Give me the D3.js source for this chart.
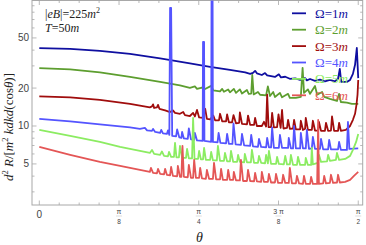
<!DOCTYPE html>
<html>
<head>
<meta charset="utf-8">
<script src="https://cdn.jsdelivr.net/npm/d3@7"></script>
<style>
  body { margin: 0; background: #fff; }
  svg { display: block; }
</style>
</head>
<body>
<div id="chart"></div>
<script>
// ==============================
// Data: theta in degrees, rate d2R (log axis)
// ==============================
const omega1 = [[0,41.5],[8.7,40.9],[17.1,39.4],[25.6,37.3],[34.1,34.4],[42.5,31.4],[48.2,29.5],[53.8,27.9],[58.1,26.6],[59.5,25.9],[60.3,26.4],[60.9,27.4],[61.4,26.2],[62.8,25.4],[63.7,26.3],[64.3,25.2],[66.5,24.5],[67.6,25.7],[68.2,24.3],[69.4,24.6],[70.7,23.7],[72.2,23.9],[73.6,23.2],[75.0,24.0],[75.5,23.0],[76.4,23.6],[77.8,22.8],[79.2,23.3],[80.6,22.6],[82.0,23.2],[83.4,22.6],[84.3,23.7],[84.8,28.4],[85.2,22.4],[86.8,22.4],[87.7,23.2],[88.5,25.9],[89.1,30.6],[89.6,41.6],[90,24.0]];

const omega2 = [[0,28.8],[8.7,28.1],[17.1,26.6],[25.6,24.5],[34.1,22.4],[39.7,21.0],[42.5,20.1],[43.9,20.6],[44.5,19.7],[45.9,20.2],[46.5,19.5],[48.5,20.8],[49.1,19.2],[51.0,18.8],[51.6,19.7],[52.1,18.7],[53.3,19.5],[53.8,18.5],[54.9,19.7],[55.5,18.3],[56.6,19.5],[57.2,18.1],[58.6,19.3],[59.1,18.0],[59.8,18.1],[60.1,25.4],[60.5,17.8],[61.7,18.6],[62.3,17.7],[64.0,17.5],[64.5,20.6],[65.1,17.3],[66.0,18.6],[66.5,17.0],[67.9,18.3],[68.5,16.9],[70.2,18.0],[70.7,16.7],[72.4,16.7],[73.8,17.0],[74.3,28.9],[74.7,18.3],[75.8,19.5],[76.4,18.0],[77.8,20.8],[78.4,17.7],[79.8,18.6],[80.4,17.0],[82.0,16.4],[84.0,15.8],[84.6,18.0],[85.1,15.5],[86.8,15.3],[88.2,15.0],[90,15.0]];

const omega3 = [[0,17.2],[8.7,16.9],[17.1,16.1],[25.6,15.0],[31.2,14.05],[31.8,14.3],[32.1,14.85],[32.4,13.9],[33.2,14.05],[33.5,14.7],[33.9,13.7],[35.5,13.3],[36.9,12.9],[37.7,13.3],[38.3,12.7],[39.7,12.5],[40.6,12.9],[41.1,12.2],[42.5,12.0],[43.4,12.7],[43.9,11.9],[44.5,13.4],[45.1,11.7],[46.2,11.6],[46.8,13.7],[47.3,11.4],[48.2,11.3],[49.1,12.1],[49.6,11.1],[50.7,11.1],[51.0,12.5],[51.6,10.9],[52.7,10.9],[53.0,12.35],[53.5,10.7],[54.4,10.7],[54.8,12.2],[55.5,10.5],[56.4,10.6],[56.6,12.8],[57.2,10.4],[58.6,10.3],[58.9,12.1],[59.5,10.2],[60.6,10.2],[60.9,11.6],[61.4,10.0],[62.8,10.0],[63.4,10.8],[64.0,9.9],[64.3,17.7],[64.7,9.8],[65.4,9.8],[65.7,12.7],[66.2,9.75],[67.1,9.8],[67.5,12.35],[68.1,9.65],[68.5,13.4],[68.9,9.55],[69.9,9.65],[70.2,11.2],[70.7,9.5],[71.6,9.55],[71.9,11.2],[72.4,9.4],[73.6,9.4],[73.8,11.0],[74.4,9.3],[75.0,9.5],[75.2,11.6],[75.8,9.3],[76.9,9.3],[77.2,11.0],[77.8,9.2],[78.7,9.2],[78.9,10.8],[79.5,9.15],[80.6,9.15],[80.9,10.6],[81.5,9.15],[82.3,9.2],[82.6,11.9],[83.2,9.15],[84.3,9.15],[84.6,10.6],[85.1,9.15],[86.5,9.3],[87.7,10.0],[88.5,11.2],[89.1,12.5],[89.5,14.7],[89.8,17.7],[90,23.2]];

const omega4 = [[0,11.38],[8.7,10.87],[17.1,10.3],[25.6,9.74],[28.4,9.48],[29.8,9.65],[30.4,9.22],[31.8,9.14],[32.1,9.48],[32.7,8.97],[34.1,8.81],[34.4,9.30],[34.9,8.73],[36.0,8.65],[36.3,9.22],[36.7,8.49],[36.9,86.5],[37.2,86.5],[37.5,8.34],[38.6,8.27],[38.9,9.39],[39.5,8.12],[40.1,8.04],[40.3,8.97],[40.8,7.97],[41.9,7.89],[42.2,9.56],[42.8,7.82],[43.7,7.75],[43.9,8.81],[44.5,7.68],[46.1,7.61],[46.2,46.5],[46.5,46.5],[46.6,7.61],[48.5,7.47],[48.6,105],[48.9,105],[49.0,7.47],[50.3,7.40],[50.6,8.81],[51.1,7.34],[52.7,7.27],[53.0,8.65],[53.5,7.20],[54.5,7.20],[54.8,10.5],[55.4,7.14],[56.9,7.07],[57.2,8.65],[57.8,7.01],[59.5,6.95],[59.8,8.49],[60.3,6.88],[61.7,6.82],[62.0,7.89],[62.6,6.82],[64.0,6.76],[64.3,8.04],[64.8,6.76],[65.4,6.76],[65.7,9.74],[66.2,6.70],[67.6,6.70],[67.9,8.49],[68.5,6.70],[70.2,6.70],[70.4,8.04],[71.0,6.64],[71.6,6.64],[71.9,10.0],[72.4,6.64],[73.6,6.64],[73.8,8.81],[74.4,6.64],[75.2,6.64],[75.5,9.30],[76.1,6.58],[76.9,6.64],[77.2,8.19],[77.8,6.58],[79.2,6.58],[79.5,7.89],[80.1,6.52],[81.5,6.52],[81.8,7.75],[82.3,6.52],[84.3,6.52],[84.6,7.47],[85.1,6.46],[86.8,6.46],[87.1,10.77],[87.5,6.58],[90,6.64]];

const omega5 = [[0,9.30],[8.7,8.34],[17.1,7.47],[22.8,6.82],[28.4,6.34],[31.2,6.11],[31.8,6.46],[32.4,6.00],[34.1,5.90],[34.6,6.28],[35.2,5.79],[36.3,5.74],[36.6,6.23],[37.2,5.69],[38.0,5.69],[38.3,7.34],[38.7,5.63],[39.4,5.63],[39.7,6.95],[40.3,5.58],[41.4,5.58],[41.7,6.58],[42.2,5.53],[43.1,5.53],[43.4,11.59],[43.8,5.48],[44.8,5.48],[45.1,6.34],[45.6,5.43],[46.2,5.43],[46.5,6.70],[47.0,5.38],[48.2,5.38],[48.5,6.23],[49.0,5.34],[50.1,5.34],[50.4,6.95],[51.0,5.29],[52.1,5.29],[52.4,6.11],[53.0,5.24],[53.8,5.24],[54.1,6.34],[54.7,5.19],[55.8,5.19],[56.1,5.90],[56.6,5.19],[57.8,5.15],[58.0,6.00],[58.6,5.15],[59.7,5.15],[60.0,6.46],[60.6,5.10],[61.7,5.10],[62.0,5.79],[62.6,5.10],[63.7,5.05],[64.0,5.90],[64.5,5.05],[64.8,6.34],[65.4,5.00],[66.8,5.00],[67.1,5.69],[67.6,5.00],[69.0,4.95],[69.4,5.79],[69.9,4.95],[70.7,4.95],[71.0,5.90],[71.6,4.91],[72.7,4.91],[73.0,5.69],[73.6,4.91],[75.0,4.91],[75.2,5.58],[75.8,4.91],[76.7,4.91],[76.9,6.70],[77.2,4.95],[78.6,5.10],[78.9,5.90],[79.5,5.19],[81.2,5.24],[81.5,5.90],[82.0,5.29],[83.7,5.38],[84.0,6.11],[84.6,5.38],[86.3,5.48],[87.7,5.79],[88.5,6.46],[89.4,7.47],[90,8.65]];

const omega6 = [[0,6.82],[8.7,5.90],[17.1,5.19],[22.8,4.82],[28.4,4.48],[31.2,4.32],[31.5,4.65],[32.1,4.25],[33.2,4.21],[33.5,4.57],[34.1,4.17],[35.2,4.13],[35.5,4.57],[36.0,4.10],[36.9,4.06],[37.2,4.74],[37.7,4.02],[38.9,3.99],[39.1,4.82],[39.7,3.95],[40.1,3.95],[40.4,6.95],[40.8,3.95],[41.9,3.92],[42.2,4.91],[42.8,3.88],[43.4,3.88],[43.7,5.38],[44.2,3.88],[45.1,3.88],[45.4,4.65],[45.9,3.84],[47.0,3.81],[47.3,4.48],[47.9,3.81],[49.0,3.81],[49.3,5.10],[49.9,3.77],[51.0,3.77],[51.3,4.57],[51.8,3.73],[53.0,3.73],[53.3,4.48],[53.8,3.73],[54.7,3.73],[54.9,4.32],[55.5,3.70],[56.6,3.70],[56.9,5.38],[57.5,3.66],[58.6,3.66],[58.9,4.48],[59.5,3.66],[60.6,3.63],[60.9,4.25],[61.4,3.63],[62.6,3.60],[62.8,4.32],[63.4,3.60],[64.5,3.60],[64.8,4.17],[65.4,3.56],[66.5,3.56],[66.8,4.17],[67.4,3.53],[68.5,3.53],[68.8,4.10],[69.4,3.53],[70.4,3.53],[70.7,4.65],[71.3,3.50],[72.4,3.50],[72.7,4.02],[73.3,3.50],[74.4,3.47],[74.7,4.02],[75.2,3.47],[76.4,3.47],[76.7,3.95],[77.2,3.47],[78.4,3.47],[78.7,11.17],[78.9,3.47],[80.1,3.50],[80.4,4.02],[80.9,3.50],[82.0,3.53],[82.3,4.10],[82.9,3.53],[84.0,3.56],[84.3,4.10],[84.8,3.56],[86.3,3.60],[87.7,3.73],[88.8,4.02],[90,4.32]];

const seriesData = [omega1, omega2, omega3, omega4, omega5, omega6];
const seriesNames = ["1", "2", "3", "4", "5", "6"];
const seriesColors = ["#0f0fa0", "#5d9e2f", "#a00d0d", "#5454ff", "#8cec62", "#e45656"];

const xTickDeg = [0, 22.5, 45, 67.5, 90];
const xTickNum = ["0", "π", "π", "3 π", "π"];
const xTickDen = [null, "8", "4", "8", "2"];
const xMinorStep = 5.625;
const yMajor = [5, 10, 20, 50];
const yMinor = [3, 4, 6, 7, 8, 9, 30, 40, 60, 70, 80, 90];

// ==============================
// Layout
// ==============================
const width = 366, height = 245;
const plot = { left: 32, right: 362.7, top: 0.5, bottom: 205 };

const svg = d3.select("#chart").append("svg")
  .attr("width", width)
  .attr("height", height);

const x = d3.scaleLinear().domain([-2.06, 91.26]).range([plot.left, plot.right]);
const y = d3.scaleLog().domain([2.36, 100]).range([plot.bottom, 0]);

const frameColor = "#a8a8a8";
const textColor = "#444";

// --- clip region ---
svg.append("defs").append("clipPath").attr("id", "clip")
  .append("rect")
  .attr("x", plot.left).attr("y", plot.top)
  .attr("width", plot.right - plot.left)
  .attr("height", plot.bottom - plot.top);

// --- frame ---
svg.append("rect")
  .attr("x", plot.left).attr("y", plot.top)
  .attr("width", plot.right - plot.left)
  .attr("height", plot.bottom - plot.top)
  .attr("fill", "none")
  .attr("stroke", frameColor)
  .attr("stroke-width", 1);

const ticks = svg.append("g").attr("stroke", frameColor).attr("stroke-width", 0.8);

// x ticks (bottom + top, inward)
const xMinor = d3.range(0, 90.01, xMinorStep).filter(d => !xTickDeg.includes(d));
xTickDeg.forEach(d => {
  ticks.append("line").attr("x1", x(d)).attr("x2", x(d)).attr("y1", plot.bottom).attr("y2", plot.bottom - 4.5);
  ticks.append("line").attr("x1", x(d)).attr("x2", x(d)).attr("y1", plot.top).attr("y2", plot.top + 4.5);
});
xMinor.forEach(d => {
  ticks.append("line").attr("x1", x(d)).attr("x2", x(d)).attr("y1", plot.bottom).attr("y2", plot.bottom - 2.5);
  ticks.append("line").attr("x1", x(d)).attr("x2", x(d)).attr("y1", plot.top).attr("y2", plot.top + 2.5);
});

// y ticks (left + right, inward)
yMajor.forEach(v => {
  ticks.append("line").attr("x1", plot.left).attr("x2", plot.left + 4.5).attr("y1", y(v)).attr("y2", y(v));
  ticks.append("line").attr("x1", plot.right).attr("x2", plot.right - 4.5).attr("y1", y(v)).attr("y2", y(v));
});
yMinor.forEach(v => {
  ticks.append("line").attr("x1", plot.left).attr("x2", plot.left + 2.5).attr("y1", y(v)).attr("y2", y(v));
  ticks.append("line").attr("x1", plot.right).attr("x2", plot.right - 2.5).attr("y1", y(v)).attr("y2", y(v));
});

// --- y tick labels ---
svg.append("g").selectAll("text")
  .data(yMajor)
  .join("text")
  .attr("x", plot.left - 3)
  .attr("y", d => y(d))
  .attr("dy", "0.35em")
  .attr("text-anchor", "end")
  .attr("font-family", "Liberation Sans, Arial, sans-serif")
  .attr("font-size", 10)
  .attr("fill", textColor)
  .text(d => d);

// --- x tick labels (fractions of pi) ---
const xl = svg.append("g")
  .attr("font-family", "Liberation Sans, Arial, sans-serif")
  .attr("fill", textColor)
  .attr("text-anchor", "middle");
xTickDeg.forEach((d, i) => {
  if (xTickDen[i] === null) {
    xl.append("text").attr("x", x(d)).attr("y", 217.5).attr("font-size", 10).text(xTickNum[i]);
  } else {
    xl.append("text").attr("x", x(d)).attr("y", 213.5).attr("font-size", 7).text(xTickNum[i]);
    xl.append("line").attr("x1", x(d) - 3).attr("x2", x(d) + 3)
      .attr("y1", 216).attr("y2", 216)
      .attr("stroke", "#bbb").attr("stroke-width", 0.5);
    xl.append("text").attr("x", x(d)).attr("y", 223.5).attr("font-size", 6.5).text(xTickDen[i]);
  }
});

// --- axis titles ---
svg.append("text")
  .attr("x", (plot.left + plot.right) / 2 + 2)
  .attr("y", 242)
  .attr("text-anchor", "middle")
  .attr("font-family", "Liberation Serif, Times New Roman, serif")
  .attr("font-style", "italic")
  .attr("font-size", 14)
  .attr("fill", "#222")
  .text("θ");

const yt = svg.append("text")
  .attr("transform", "translate(13,127) rotate(-90)")
  .attr("text-anchor", "middle")
  .attr("font-family", "Liberation Serif, Times New Roman, serif")
  .attr("font-size", 13)
  .attr("fill", "#222");
yt.append("tspan").attr("font-style", "italic").text("d");
yt.append("tspan").attr("font-size", 8.5).attr("dy", -5).text("2");
yt.append("tspan").attr("font-style", "italic").attr("dy", 5).text(" R");
yt.append("tspan").text("/[");
yt.append("tspan").attr("font-style", "italic").text("m");
yt.append("tspan").attr("font-size", 8.5).attr("dy", -5).text("2");
yt.append("tspan").attr("font-style", "italic").attr("dy", 5).text(" kdkd");
yt.append("tspan").text("(cos");
yt.append("tspan").attr("font-style", "italic").text("θ");
yt.append("tspan").text(")]");

// --- curves ---
const line = d3.line()
  .x(d => x(d[0]))
  .y(d => y(d[1]));

svg.append("g")
  .attr("clip-path", "url(#clip)")
  .selectAll("path")
  .data(seriesData)
  .join("path")
  .attr("d", line)
  .attr("fill", "none")
  .attr("stroke", (d, i) => seriesColors[i])
  .attr("stroke-width", 1.8)
  .attr("stroke-linejoin", "round");

// --- annotation ---
const ann = svg.append("g")
  .attr("font-family", "Liberation Serif, Times New Roman, serif")
  .attr("font-size", 12)
  .attr("fill", "#222");
const a1 = ann.append("text").attr("x", 45).attr("y", 17.5);
a1.append("tspan").text("|");
a1.append("tspan").attr("font-style", "italic").text("eB");
a1.append("tspan").text("|=225");
a1.append("tspan").attr("font-style", "italic").text("m");
a1.append("tspan").attr("font-size", 8).attr("dy", -5).text("2");
const a2 = ann.append("text").attr("x", 45).attr("y", 32);
a2.append("tspan").attr("font-style", "italic").text("T");
a2.append("tspan").text("=50");
a2.append("tspan").attr("font-style", "italic").text("m");

// --- legend ---
const legend = svg.append("g")
  .attr("font-family", "Liberation Serif, Times New Roman, serif")
  .attr("font-size", 13);
seriesNames.forEach((name, i) => {
  const ly = 13.3 + i * 16.4;
  legend.append("line")
    .attr("x1", 292).attr("x2", 306)
    .attr("y1", ly).attr("y2", ly)
    .attr("stroke", seriesColors[i]).attr("stroke-width", 1.8);
  const t = legend.append("text")
    .attr("x", 315).attr("y", ly + 4.5)
    .attr("fill", seriesColors[i]);
  t.append("tspan").text("Ω=" + name);
  t.append("tspan").attr("font-style", "italic").text("m");
});
</script>
</body>
</html>
